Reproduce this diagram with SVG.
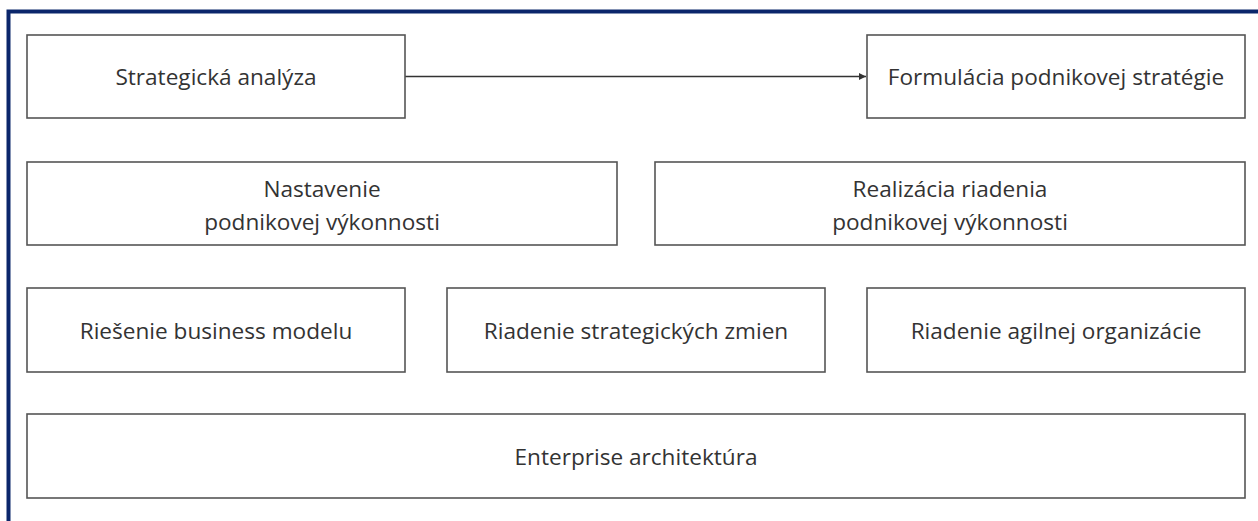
<svg xmlns="http://www.w3.org/2000/svg" width="1258" height="521" viewBox="0 0 1258 521">
<style>
.frame{fill:none;stroke:#0b266b;stroke-width:4}
.box{fill:#fff;stroke:#555;stroke-width:1.6}
.t{font-family:"Open Sans","Noto Sans",sans-serif;font-size:22.6px;fill:#333;text-anchor:middle;dominant-baseline:central}
.conn{stroke:#333;stroke-width:1.4;fill:none}
</style>
<defs>
<marker id="ah" viewBox="0 0 10 10" refX="10" refY="5" markerWidth="7" markerHeight="7" markerUnits="userSpaceOnUse" orient="auto">
<path d="M0,0 L10,5 L0,10 z" fill="#333"/>
</marker>
</defs>
<rect width="1258" height="521" fill="#fff"/>
<rect class="frame" x="8.5" y="11.5" width="1260" height="520"/>
<g id="connectors">
<line class="conn" x1="405" y1="76.5" x2="866" y2="76.5" marker-end="url(#ah)"/>
</g>
<g id="n1"><rect class="box" x="27" y="35" width="378" height="83"/><text class="t" x="216" y="76.5">Strategická analýza</text></g>
<g id="n2"><rect class="box" x="867" y="35" width="378" height="83"/><text class="t" x="1056" y="76.5">Formulácia podnikovej stratégie</text></g>
<g id="n3"><rect class="box" x="27" y="162" width="590" height="83"/><text class="t" x="322" y="188">Nastavenie</text><text class="t" x="322" y="221">podnikovej výkonnosti</text></g>
<g id="n4"><rect class="box" x="655" y="162" width="590" height="83"/><text class="t" x="950" y="188">Realizácia riadenia</text><text class="t" x="950" y="221">podnikovej výkonnosti</text></g>
<g id="n5"><rect class="box" x="27" y="288" width="378" height="84"/><text class="t" x="216" y="330">Riešenie business modelu</text></g>
<g id="n6"><rect class="box" x="447" y="288" width="378" height="84"/><text class="t" x="636" y="330">Riadenie strategických zmien</text></g>
<g id="n7"><rect class="box" x="867" y="288" width="378" height="84"/><text class="t" x="1056" y="330">Riadenie agilnej organizácie</text></g>
<g id="n8"><rect class="box" x="27" y="414" width="1218" height="84"/><text class="t" x="636" y="456">Enterprise architektúra</text></g>
</svg>
